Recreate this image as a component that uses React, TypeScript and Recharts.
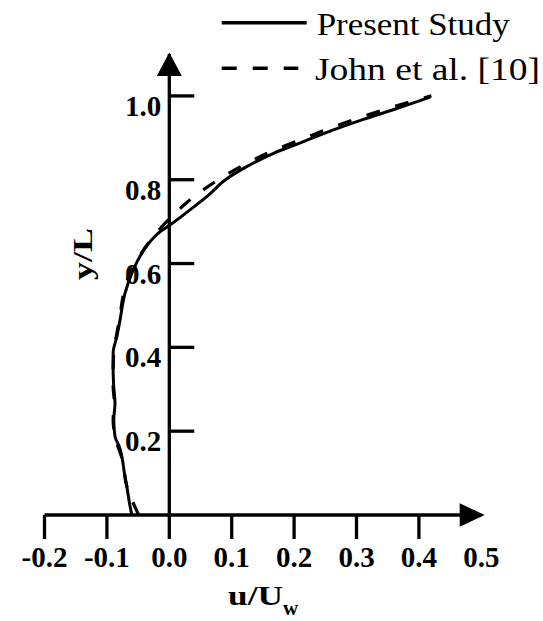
import React from 'react';
import {
  LineChart,
  Line,
  XAxis,
  YAxis,
  ReferenceLine,
  ReferenceDot,
  Legend,
} from 'recharts';

// Present Study (solid) — read bottom to top
const presentY = [0, 0.03, 0.068, 0.1, 0.131, 0.163, 0.187, 0.227, 0.267, 0.306, 0.346, 0.386, 0.426, 0.465, 0.529, 0.577, 0.617, 0.652, 0.676, 0.692, 0.728, 0.762, 0.8, 0.827, 0.863, 0.891, 0.919, 0.944, 0.967, 0.997];
const presentU = [-0.06, -0.064, -0.068, -0.072, -0.075, -0.08, -0.087, -0.089, -0.087, -0.089, -0.09, -0.09, -0.084, -0.079, -0.071, -0.06, -0.047, -0.031, -0.015, 0.001, 0.033, 0.062, 0.09, 0.119, 0.167, 0.215, 0.263, 0.311, 0.359, 0.418];

// John et al. [10] (dashed)
const johnY = [0, 0.036, 0.068, 0.131, 0.187, 0.227, 0.267, 0.306, 0.346, 0.386, 0.426, 0.465, 0.529, 0.577, 0.605, 0.66, 0.708, 0.76, 0.815, 0.835, 0.87, 0.898, 0.926, 0.951, 0.974, 1.0];
const johnU = [-0.049, -0.06, -0.068, -0.075, -0.087, -0.09, -0.088, -0.09, -0.09, -0.089, -0.085, -0.08, -0.073, -0.063, -0.053, -0.028, 0.001, 0.04, 0.095, 0.119, 0.167, 0.215, 0.263, 0.311, 0.359, 0.42];

const xTicks = [-0.2, -0.1, 0, 0.1, 0.2, 0.3, 0.4, 0.5];
const yTicks = [0.2, 0.4, 0.6, 0.8, 1.0];

const SERIF = '"Liberation Serif", "Times New Roman", Tinos, serif';
const AXIS_W = 3.3;
const TICK_LEN_U = 0.04; // y-axis tick length in u units

const presentData = presentY.map((y, i) => ({ u: presentU[i], y }));
const johnData = johnY.map((y, i) => ({ u: johnU[i], y }));

function XTick(props: any) {
  const { x, y, payload } = props;
  const v = payload.value as number;
  return (
    <g>
      {v < 0.45 && (
        <line x1={x} x2={x} y1={y} y2={y + 24} stroke="#000" strokeWidth={AXIS_W} />
      )}
      <text
        x={x}
        y={y + 51.5}
        textAnchor="middle"
        fontFamily={SERIF}
        fontWeight="bold"
        fontSize={29}
        fill="#000"
      >
        {v.toFixed(1)}
      </text>
    </g>
  );
}

const yTickLabel = (text: string) => (props: any) => {
  const vb = props.viewBox || {};
  return (
    <text
      x={vb.x - 8}
      y={vb.y + 20}
      textAnchor="end"
      fontFamily={SERIF}
      fontWeight="bold"
      fontSize={29}
      fill="#000"
    >
      {text}
    </text>
  );
};

const yTitle = (props: any) => {
  const vb = props.viewBox || {};
  const cx = vb.x - 77;
  const cy = 254;
  return (
    <text
      x={cx}
      y={cy}
      transform={`rotate(-90, ${cx}, ${cy})`}
      textAnchor="middle"
      fontFamily={SERIF}
      fontWeight="bold"
      fontSize={27}
      textLength={52}
      lengthAdjust="spacingAndGlyphs"
      fill="#000"
    >
      y/L
    </text>
  );
};

const xArrow = (props: any) => {
  const { cx, cy } = props;
  return (
    <polygon
      points={`${cx + 3.4},${cy} ${cx - 21.6},${cy - 11.7} ${cx - 21.6},${cy + 11.7}`}
      fill="#000"
    />
  );
};

const yArrow = (props: any) => {
  const { cx, cy } = props;
  return (
    <polygon
      points={`${cx},${cy - 1.4} ${cx - 12.5},${cy + 22} ${cx + 12.5},${cy + 22}`}
      fill="#000"
    />
  );
};

const renderLegend = () => (
  <svg width={543} height={90} style={{ display: 'block' }}>
    <line x1={221.7} x2={306.7} y1={22.7} y2={22.7} stroke="#000" strokeWidth={3.5} />
    <text
      x={316.7}
      y={34.5}
      fontFamily={SERIF}
      fontSize={31}
      textLength={193}
      lengthAdjust="spacingAndGlyphs"
      fill="#000"
    >
      Present Study
    </text>
    <line
      x1={221.7}
      x2={298.3}
      y1={68.3}
      y2={68.3}
      stroke="#000"
      strokeWidth={3.5}
      strokeDasharray="15 16"
    />
    <text
      x={315}
      y={80}
      fontFamily={SERIF}
      fontSize={31}
      textLength={225}
      lengthAdjust="spacingAndGlyphs"
      fill="#000"
    >
      John et al. [10]
    </text>
  </svg>
);

function XTitle() {
  return (
    <text x={228} y={605} fontFamily={SERIF} fontWeight="bold" fill="#000">
      <tspan fontSize={28} textLength={55} lengthAdjust="spacingAndGlyphs">u/U</tspan>
      <tspan fontSize={21} dy={10}>w</tspan>
    </text>
  );
}

export default function App() {
  return (
    <div style={{ position: 'absolute', left: 0, top: 0, width: 543, height: 621, background: '#fff' }}>
      <LineChart
        width={543}
        height={621}
        margin={{ top: 54, right: 61.7, bottom: 0, left: 44.5 }}
      >
        <XAxis
          type="number"
          dataKey="u"
          domain={[-0.2, 0.5]}
          ticks={xTicks}
          interval={0}
          allowDataOverflow
          height={106}
          tickSize={0}
          tickMargin={0}
          tickLine={false}
          axisLine={{ stroke: '#000', strokeWidth: AXIS_W }}
          tick={<XTick />}
          label={<XTitle />}
        />
        <YAxis type="number" dataKey="y" domain={[0, 1.1]} allowDataOverflow hide />
        <Legend
          layout="horizontal"
          verticalAlign="middle"
          align="center"
          content={renderLegend}
          wrapperStyle={{ left: 0, top: 0, width: 543, height: 90 }}
        />
        <ReferenceLine
          x={0}
          stroke="#000"
          strokeWidth={AXIS_W}
          label={{ content: yTitle }}
        />
        {yTicks.map((v) => (
          <ReferenceLine
            key={v}
            segment={[
              { x: 0, y: v },
              { x: TICK_LEN_U, y: v },
            ]}
            stroke="#000"
            strokeWidth={AXIS_W}
            ifOverflow="visible"
            label={{ content: yTickLabel(v.toFixed(1)) }}
          />
        ))}
        <ReferenceDot x={0.5} y={0} r={0} ifOverflow="visible" shape={xArrow} />
        <ReferenceDot x={0} y={1.1} r={0} ifOverflow="visible" shape={yArrow} />
        <Line
          data={johnData}
          dataKey="y"
          type="monotoneY"
          stroke="#000"
          strokeWidth={3.2}
          strokeDasharray="14 16"
          dot={false}
          isAnimationActive={false}
        />
        <Line
          data={presentData}
          dataKey="y"
          type="monotoneY"
          stroke="#000"
          strokeWidth={3}
          dot={false}
          isAnimationActive={false}
        />
      </LineChart>
    </div>
  );
}
